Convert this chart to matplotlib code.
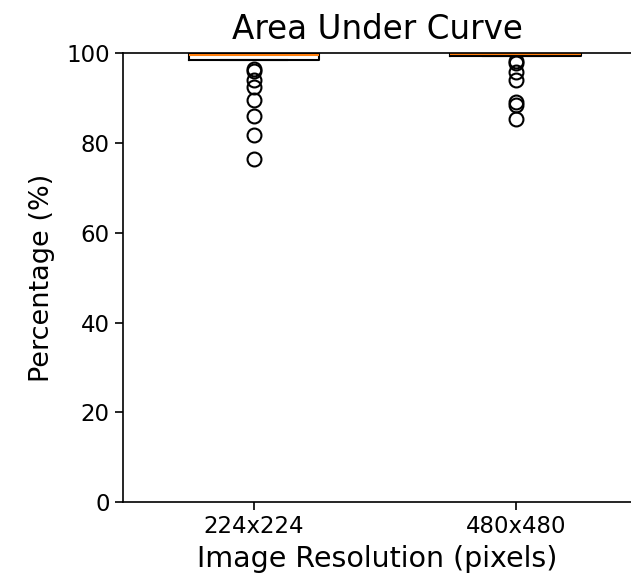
import matplotlib
matplotlib.use("Agg")
import matplotlib.pyplot as plt

# box statistics
labels = ["224x224", "480x480"]
q1 = [98.6, 99.3]
med = [99.6, 99.75]
q3 = [100.0, 100.0]
whislo = [98.6, 99.3]
whishi = [100.0, 100.0]
fliers_224 = [96.5, 96.0, 94.0, 92.5, 89.5, 86.0, 81.8, 76.5]
fliers_480 = [98.3, 97.9, 95.8, 94.0, 89.1, 88.4, 85.4]
fliers = [fliers_224, fliers_480]

stats = []
for i in range(len(labels)):
    stats.append(dict(label=labels[i], q1=q1[i], med=med[i], q3=q3[i],
                      whislo=whislo[i], whishi=whishi[i], fliers=fliers[i]))

fig = plt.figure(figsize=(6.31, 5.79), dpi=100)
ax = fig.add_axes([0.195, 0.133, 0.805, 0.775])
ax.bxp(stats, widths=0.5, flierprops=dict(markersize=10, markeredgewidth=1.5),
       boxprops=dict(linewidth=1.5), medianprops=dict(linewidth=1.5),
       whiskerprops=dict(linewidth=1.5), capprops=dict(linewidth=1.5))
ax.set_xlim(0.5, 2.44)
ax.set_ylim(0, 100)
ax.spines['right'].set_visible(False)
for s in ax.spines.values():
    s.set_linewidth(1.2)
ax.set_title("Area Under Curve", fontsize=23.5, pad=10)
ax.set_ylabel("Percentage (%)", fontsize=19.5, labelpad=8)
ax.set_xlabel("Image Resolution (pixels)", fontsize=20.5, labelpad=5)
ax.tick_params(labelsize=16.5, width=1.2, length=6)

fig.savefig("out.png", dpi=100)
